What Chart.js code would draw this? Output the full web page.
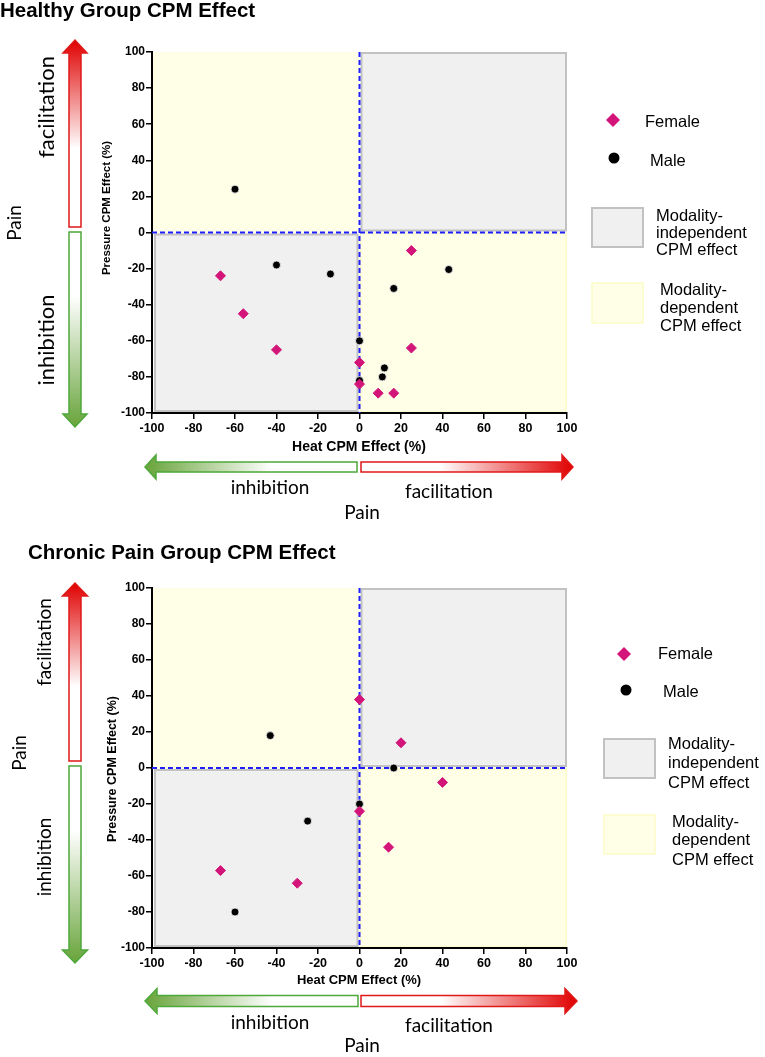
<!DOCTYPE html>
<html>
<head>
<meta charset="utf-8">
<title>CPM Effect</title>
<script src="https://cdn.jsdelivr.net/npm/chart.js"></script>
<style>
body{margin:0;background:#fff;}
.wrap{position:relative;width:765px;height:1057px;}
#healthyChart{position:absolute;left:0;top:0;}
#chronicChart{position:absolute;left:0;top:530px;}
</style>
</head>
<body>
<div class="wrap">
<canvas id="healthyChart" width="765" height="530"></canvas>
<canvas id="chronicChart" width="765" height="527"></canvas>
</div>
<script>
// axis range, both axes
const axisMin = -100;
const axisMax = 100;
const axisStep = 20;

// Healthy group: heat CPM effect (x) vs pressure CPM effect (y), %
const healthyFemaleX = [-67, -56, -40, 25, 25, 0, 0, 9, 16.5];
const healthyFemaleY = [-24, -45, -65, -10, -64, -72, -84, -89, -89];
const healthyMaleX = [-60, -40, -14, 43, 16.5, 0, 12, 11, 0];
const healthyMaleY = [24, -18, -23, -20.5, -31, -60, -75, -80, -82];

// Chronic pain group
const chronicFemaleX = [0, 20, 40, 0, 14, -67, -30];
const chronicFemaleY = [38, 14, -8, -24, -44, -57, -64];
const chronicMaleX = [-43, 16.5, 0, -25, -60];
const chronicMaleY = [18, 0, -20, -29.5, -80];

const seriesNames = ['Female', 'Male'];
const boxNames = [['Modality-', 'independent', 'CPM effect'], ['Modality-', 'dependent', 'CPM effect']];

const FEMALE = '#D3157A';
const GRAY_FILL = '#F0F0F0', GRAY_LINE = '#C2C2C2';
const YEL_FILL = '#FFFFE8', YEL_LINE = '#FBFBC8';
const DASH = '#1E1EFF';
const RED = '#E00000', GREEN = '#68A43A';
const SANS = '"Liberation Sans", Arial, sans-serif';
const HAND = 'Lato, "Open Sans", sans-serif';

// page coordinates for everything drawn around the plots
const looks = {
  healthyChart: {
    oy: 0, canvasH: 530, left: 152, right: 567, top: 52, bottom: 413,
    title: {text: 'Healthy Group CPM Effect', x: 0, y: 11, size: 20.5},
    yTitle: {x: 107, y: 208, size: 11.5}, xTitle: {x: 359, y: 447, size: 14},
    vx: 75, red: [227, 40], green: [232, 427], vShaft: 6, vHead: 12, vHeadLen: 13,
    vFac: [47, 107], vInh: [47, 340], vPain: [15, 223], vSize: 22,
    hy: 467, hGreen: [357, 145], hRed: [361, 573], hShaft: 5, hHead: 12, hHeadLen: 11,
    hInh: [270, 488], hFac: [449, 492], hPain: [362, 513], hSize: 19,
    fMark: [613, 120], fText: [645, 122], mMark: [614, 158], mText: [650, 161],
    grayBox: [592, 208, 51, 39], grayText: [656, 216, 233, 250],
    yelBox: [592, 283, 51, 40], yelText: [660, 290, 308, 326]
  },
  chronicChart: {
    oy: 530, canvasH: 527, left: 152, right: 567, top: 588, bottom: 948,
    title: {text: 'Chronic Pain Group CPM Effect', x: 28, y: 553, size: 20.5},
    yTitle: {x: 113, y: 769, size: 12.5}, xTitle: {x: 359, y: 980, size: 13},
    vx: 75, red: [761, 583], green: [766, 963], vShaft: 6, vHead: 12.5, vHeadLen: 13,
    vFac: [45, 642], vInh: [45, 857], vPain: [20, 753], vSize: 19,
    hy: 1001, hGreen: [358, 145], hRed: [361, 577], hShaft: 5.5, hHead: 12.5, hHeadLen: 12,
    hInh: [270, 1023], hFac: [449, 1026], hPain: [362, 1046], hSize: 19,
    fMark: [624, 654], fText: [658, 654], mMark: [626, 690], mText: [663, 692],
    grayBox: [604, 739, 51, 39], grayText: [668, 744, 763, 783],
    yelBox: [604, 815, 51, 39], yelText: [672, 822, 840, 860]
  }
};

function arrow(ctx, x1, y1, x2, y2, sh, hh, hl, color, stroke, whiteUntil) {
  const len = Math.hypot(x2 - x1, y2 - y1);
  const ux = (x2 - x1) / len, uy = (y2 - y1) / len;
  const nx = -uy, ny = ux;
  const bx = x2 - ux * hl, by = y2 - uy * hl;
  ctx.beginPath();
  ctx.moveTo(x1 + nx * sh, y1 + ny * sh);
  ctx.lineTo(bx + nx * sh, by + ny * sh);
  ctx.lineTo(bx + nx * hh, by + ny * hh);
  ctx.lineTo(x2, y2);
  ctx.lineTo(bx - nx * hh, by - ny * hh);
  ctx.lineTo(bx - nx * sh, by - ny * sh);
  ctx.lineTo(x1 - nx * sh, y1 - ny * sh);
  ctx.closePath();
  const g = ctx.createLinearGradient(x1, y1, x2, y2);
  g.addColorStop(0, '#ffffff');
  g.addColorStop(whiteUntil, '#ffffff');
  g.addColorStop(1, color);
  ctx.fillStyle = g;
  ctx.fill();
  ctx.strokeStyle = stroke;
  ctx.lineWidth = 1.5;
  ctx.stroke();
}

function text(ctx, s, x, y, font, align, rot) {
  ctx.save();
  ctx.translate(x, y);
  if (rot) ctx.rotate(rot);
  ctx.font = font;
  ctx.fillStyle = '#000';
  ctx.textAlign = align || 'center';
  ctx.textBaseline = 'middle';
  ctx.fillText(s, 0, 0);
  ctx.restore();
}

const decor = {
  id: 'decor',
  beforeDraw(chart) {
    const ctx = chart.ctx, a = chart.chartArea;
    const x0 = chart.scales.x.getPixelForValue(0);
    const y0 = chart.scales.y.getPixelForValue(0);
    ctx.save();
    // upper-left and lower-right: modality-dependent
    ctx.fillStyle = YEL_FILL;
    ctx.fillRect(a.left + 1, a.top, x0 - a.left - 1, y0 - a.top);
    ctx.fillRect(x0, y0, a.right - x0, a.bottom - y0);
    ctx.strokeStyle = YEL_LINE;
    ctx.lineWidth = 1.5;
    ctx.strokeRect(x0 + 1, y0 + 1, a.right - x0 - 2, a.bottom - y0 - 2);
    // upper-right and lower-left: modality-independent
    ctx.fillStyle = GRAY_FILL;
    ctx.strokeStyle = GRAY_LINE;
    ctx.lineWidth = 2;
    ctx.fillRect(x0 + 2, a.top + 1, a.right - x0 - 3, y0 - a.top - 3);
    ctx.strokeRect(x0 + 2, a.top + 1, a.right - x0 - 3, y0 - a.top - 3);
    ctx.fillRect(a.left + 3, y0 + 2, x0 - a.left - 5, a.bottom - y0 - 4);
    ctx.strokeRect(a.left + 3, y0 + 2, x0 - a.left - 5, a.bottom - y0 - 4);
    ctx.restore();
  },
  beforeDatasetsDraw(chart) {
    const ctx = chart.ctx, a = chart.chartArea;
    const x0 = chart.scales.x.getPixelForValue(0);
    const y0 = chart.scales.y.getPixelForValue(0);
    ctx.save();
    ctx.strokeStyle = DASH;
    ctx.lineWidth = 2;
    ctx.setLineDash([5, 3]);
    ctx.beginPath();
    ctx.moveTo(x0, a.top);
    ctx.lineTo(x0, a.bottom);
    ctx.moveTo(a.left, y0);
    ctx.lineTo(a.right, y0);
    ctx.stroke();
    ctx.restore();
  },
  afterDraw(chart) {
    const L = looks[chart.canvas.id];
    const ctx = chart.ctx;
    ctx.save();
    ctx.translate(0, -L.oy);

    // titles
    text(ctx, L.title.text, L.title.x, L.title.y, 'bold ' + L.title.size + 'px ' + SANS, 'left');
    text(ctx, 'Pressure CPM Effect (%)', L.yTitle.x, L.yTitle.y, 'bold ' + L.yTitle.size + 'px ' + SANS, 'center', -Math.PI / 2);
    text(ctx, 'Heat CPM Effect (%)', L.xTitle.x, L.xTitle.y, 'bold ' + L.xTitle.size + 'px ' + SANS, 'center');

    // vertical pain arrows
    arrow(ctx, L.vx, L.red[0], L.vx, L.red[1], L.vShaft, L.vHead, L.vHeadLen, RED, '#E01818', 0.42);
    arrow(ctx, L.vx, L.green[0], L.vx, L.green[1], L.vShaft, L.vHead, L.vHeadLen, GREEN, '#4EA83A', 0.33);
    text(ctx, 'facilitation', L.vFac[0], L.vFac[1], L.vSize + 'px ' + HAND, 'center', -Math.PI / 2);
    text(ctx, 'inhibition', L.vInh[0], L.vInh[1], L.vSize + 'px ' + HAND, 'center', -Math.PI / 2);
    text(ctx, 'Pain', L.vPain[0], L.vPain[1], '19px ' + HAND, 'center', -Math.PI / 2);

    // horizontal pain arrows
    arrow(ctx, L.hGreen[0], L.hy, L.hGreen[1], L.hy, L.hShaft, L.hHead, L.hHeadLen, GREEN, '#4EA83A', 0.4);
    arrow(ctx, L.hRed[0], L.hy, L.hRed[1], L.hy, L.hShaft, L.hHead, L.hHeadLen, RED, '#E01818', 0.37);
    text(ctx, 'inhibition', L.hInh[0], L.hInh[1], L.hSize + 'px ' + HAND);
    text(ctx, 'facilitation', L.hFac[0], L.hFac[1], L.hSize + 'px ' + HAND);
    text(ctx, 'Pain', L.hPain[0], L.hPain[1], L.hSize + 'px ' + HAND);

    // legend
    const lf = '16.5px ' + SANS;
    ctx.fillStyle = FEMALE;
    ctx.beginPath();
    ctx.moveTo(L.fMark[0], L.fMark[1] - 7);
    ctx.lineTo(L.fMark[0] + 7, L.fMark[1]);
    ctx.lineTo(L.fMark[0], L.fMark[1] + 7);
    ctx.lineTo(L.fMark[0] - 7, L.fMark[1]);
    ctx.closePath();
    ctx.fill();
    text(ctx, seriesNames[0], L.fText[0], L.fText[1], lf, 'left');
    ctx.fillStyle = '#000';
    ctx.beginPath();
    ctx.arc(L.mMark[0], L.mMark[1], 5.5, 0, Math.PI * 2);
    ctx.fill();
    text(ctx, seriesNames[1], L.mText[0], L.mText[1], lf, 'left');

    const gb = L.grayBox;
    ctx.fillStyle = GRAY_FILL;
    ctx.fillRect(gb[0], gb[1], gb[2], gb[3]);
    ctx.strokeStyle = GRAY_LINE;
    ctx.lineWidth = 2;
    ctx.strokeRect(gb[0], gb[1], gb[2], gb[3]);
    boxNames[0].forEach((s, i) => text(ctx, s, L.grayText[0], L.grayText[i + 1], lf, 'left'));

    const yb = L.yelBox;
    ctx.fillStyle = YEL_FILL;
    ctx.fillRect(yb[0], yb[1], yb[2], yb[3]);
    ctx.strokeStyle = YEL_LINE;
    ctx.lineWidth = 1.5;
    ctx.strokeRect(yb[0], yb[1], yb[2], yb[3]);
    boxNames[1].forEach((s, i) => text(ctx, s, L.yelText[0], L.yelText[i + 1], lf, 'left'));

    ctx.restore();
  }
};

function axis(size, isX) {
  return {
    type: 'linear',
    min: axisMin,
    max: axisMax,
    ticks: {stepSize: axisStep, color: '#000', padding: isX ? 2 : 1, font: {family: SANS, size: size, weight: 'bold'}},
    grid: {drawOnChartArea: false, tickLength: 6, color: '#000', lineWidth: 1.5},
    border: {color: '#000', width: 2},
    afterFit: function(s) { if (isX) s.height = 30; else s.width = 40; }
  };
}

function makeChart(id, fx, fy, mx, my) {
  const L = looks[id];
  return new Chart(document.getElementById(id), {
    type: 'scatter',
    data: {
      datasets: [
        {
          label: seriesNames[0],
          data: fx.map((x, i) => ({x: x, y: fy[i]})),
          pointStyle: 'rectRot',
          pointRadius: 5,
          backgroundColor: FEMALE,
          borderColor: FEMALE,
          borderWidth: 1
        },
        {
          label: seriesNames[1],
          data: mx.map((x, i) => ({x: x, y: my[i]})),
          pointStyle: 'circle',
          pointRadius: 4,
          backgroundColor: '#000',
          borderColor: '#ffffff',
          borderWidth: 0.8
        }
      ]
    },
    options: {
      responsive: false,
      animation: false,
      devicePixelRatio: 1,
      layout: {
        padding: {
          left: L.left - 40,
          right: 765 - L.right,
          top: L.top - L.oy,
          bottom: L.canvasH - (L.bottom - L.oy) - 30
        }
      },
      plugins: {legend: {display: false}, tooltip: {enabled: false}, title: {display: false}},
      scales: {x: axis(12.5, true), y: axis(12, false)}
    },
    plugins: [decor]
  });
}

makeChart('healthyChart', healthyFemaleX, healthyFemaleY, healthyMaleX, healthyMaleY);
makeChart('chronicChart', chronicFemaleX, chronicFemaleY, chronicMaleX, chronicMaleY);
</script>
</body>
</html>
